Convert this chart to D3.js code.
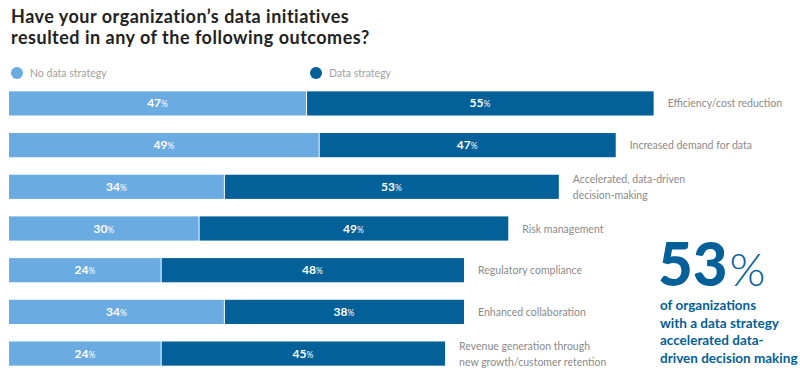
<!DOCTYPE html>
<html><head><meta charset="utf-8">
<script src="https://cdn.jsdelivr.net/npm/d3@7"></script>
<style>body{margin:0;background:#fff}svg{display:block}</style>
</head><body><svg id="c" width="800" height="378"></svg>
<script>
const categories = ["Efficiency/cost reduction","Increased demand for data","Accelerated, data-driven\ndecision-making","Risk management","Regulatory compliance","Enhanced collaboration","Revenue generation through\nnew growth/customer retention"];
const noStrategy = [47,49,34,30,24,34,24];
const withStrategy = [55,47,53,49,48,38,45];
const seriesNames = ["No data strategy","Data strategy"];
const titleLines = ["Have your organization\u2019s data initiatives","resulted in any of the following outcomes?"];
const calloutValue = "53";
const calloutLines = ["of organizations","with a data strategy","accelerated data-","driven decision making"];

const LIGHT="#6aabe2", DARK="#036098";
const font="Lato, 'Noto Sans', sans-serif";
const svg=d3.select("#c");
const x=d3.scaleLinear().domain([0,100]).range([9,641]);
const y=d3.scaleBand().domain(d3.range(categories.length)).range([83,374]).paddingInner(0.42).paddingOuter(0.2);

svg.selectAll("text.title").data(titleLines).enter().append("text")
 .attr("x",11).attr("y",(d,i)=>23+i*21).attr("font-family",font).attr("font-weight",700)
 .attr("font-size",18).attr("letter-spacing",0.5).attr("fill","#222").text(d=>d);

const leg=[{n:seriesNames[0],c:LIGHT,x:17},{n:seriesNames[1],c:DARK,x:316}];
leg.forEach(l=>{
 svg.append("circle").attr("cx",l.x).attr("cy",73).attr("r",6).attr("fill",l.c);
 svg.append("text").attr("x",l.x+13).attr("y",77).attr("font-family",font).attr("font-size",10.5).attr("fill","#a0a0a0").text(l.n);
});

const g=svg.append("g");
categories.forEach((cat,i)=>{
 const a=noStrategy[i], b=withStrategy[i];
 const y0=y(i), h=y.bandwidth();
 g.append("rect").attr("x",x(0)).attr("y",y0).attr("width",x(a)-x(0)).attr("height",h).attr("fill",LIGHT);
 g.append("rect").attr("x",x(a)+1).attr("y",y0).attr("width",x(a+b)-x(a)-1).attr("height",h).attr("fill",DARK);
 [[0,a],[a,b]].forEach(([s,v])=>{
  const t=g.append("text").attr("x",(x(s)+x(s+v))/2).attr("y",y0+h/2+4).attr("text-anchor","middle")
   .attr("font-family",font).attr("fill","#fff");
  t.append("tspan").attr("font-weight",700).attr("font-size",12).text(v);
  t.append("tspan").attr("font-size",8.5).attr("font-weight",400).text("%");
 });
 const lines=cat.split("\n");
 const lx=x(a+b)+14;
 const t=g.append("text").attr("font-family",font).attr("font-size",10.5).attr("fill","#8a8a8a");
 lines.forEach((ln,j)=>{
  t.append("tspan").attr("x",lx).attr("y",y0+h/2+4+(j-(lines.length-1)/2)*16).text(ln);
 });
});

const big=svg.append("text").attr("x",658).attr("y",286).attr("font-family",font).attr("fill",DARK);
big.append("tspan").attr("font-size",60).attr("font-weight",900).text(calloutValue);
big.append("tspan").attr("font-size",46).attr("font-weight",300).attr("dx",2).text("%");
svg.selectAll("text.call").data(calloutLines).enter().append("text")
 .attr("x",660).attr("y",(d,i)=>310+i*17.7).attr("font-family",font).attr("font-weight",700)
 .attr("font-size",13.5).attr("fill",DARK).text(d=>d);
</script></body></html>
